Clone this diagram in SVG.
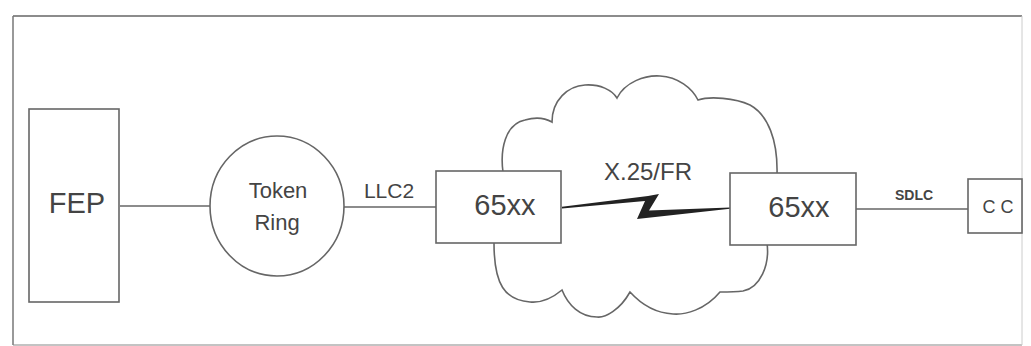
<svg xmlns="http://www.w3.org/2000/svg" width="1031" height="346" viewBox="0 0 1031 346">
<style>
.shape{fill:#fff;stroke:#666;stroke-width:1.6}
.wire{stroke:#666;stroke-width:1.6;fill:none}
.lbl{font-family:"Liberation Sans",Arial,sans-serif;fill:#444;text-anchor:middle}
</style>
<rect width="1031" height="346" fill="#fff"/>
<g id="frame" fill="none">
<line x1="13" y1="16" x2="1022" y2="16" stroke="#666" stroke-width="1.6"/>
<line x1="13" y1="16" x2="13" y2="345" stroke="#777" stroke-width="1.5"/>
<line x1="13" y1="345" x2="1022" y2="345" stroke="#888" stroke-width="1.2"/>
<line x1="1022" y1="16" x2="1022" y2="345" stroke="#ccc" stroke-width="1"/>
</g>
<g id="cloud">
<path class="shape" d="M503,172 C500,150 505,124 525,120 C535,117 545,118 552,122 C552,100 568,86 585,85 C600,84 612,90 617,98 C625,82 645,75 660,76 C678,77 692,88 698,100 C710,96 735,98 750,105 C768,115 778,140 777,175 L767,243 C770,265 760,288 743,291 C735,292 725,292 720,292 C705,310 685,315 673,314 C655,313 640,303 630,292 C620,310 605,318 597,317 C580,317 568,305 562,290 C550,300 540,303 530,302 C505,300 494,285 494,243 Z"/>
</g>
<g id="connectors">
<line class="wire" x1="120" y1="206" x2="210" y2="206"/>
<line class="wire" x1="344" y1="207" x2="436" y2="207"/>
<line class="wire" x1="856" y1="209" x2="968" y2="209"/>
<polygon fill="#222" points="562,206.8 648,196 659,194 649,210.5 730,207.5 730,208.7 637,219 645,201 562,208.4"/>
<text class="lbl" x="389" y="198" font-size="21">LLC2</text>
<text class="lbl" x="648" y="180" font-size="24">X.25/FR</text>
<text class="lbl" x="914" y="200" font-size="14" font-weight="bold">SDLC</text>
</g>
<g id="fep">
<rect class="shape" x="29" y="109" width="90" height="193"/>
<text class="lbl" x="77" y="213" font-size="29">FEP</text>
</g>
<g id="token-ring">
<ellipse class="shape" cx="277" cy="206" rx="67" ry="70"/>
<text class="lbl" x="278" y="198" font-size="22">Token</text>
<text class="lbl" x="277" y="230" font-size="22">Ring</text>
</g>
<g id="router-left">
<rect class="shape" x="436" y="171" width="125" height="72"/>
<text class="lbl" x="505" y="215" font-size="29">65xx</text>
</g>
<g id="router-right">
<rect class="shape" x="730" y="173" width="126" height="72"/>
<text class="lbl" x="799" y="217" font-size="29">65xx</text>
</g>
<g id="cc">
<rect class="shape" x="968" y="179" width="54" height="54"/>
<text class="lbl" x="998" y="213" font-size="18">C C</text>
</g>
</svg>
